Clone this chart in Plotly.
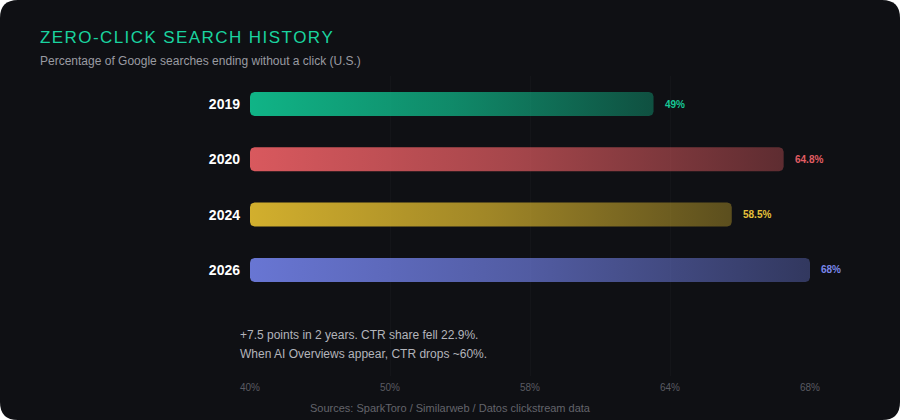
import plotly.graph_objects as go
import numpy as np

# ---------------- data ----------------
years = ["2019", "2020", "2024", "2026"]
values = [49.0, 64.8, 58.5, 68.0]
value_labels = ["49%", "64.8%", "58.5%", "68%"]
bar_colors = ["#10b98a", "#df5b60", "#d8b42e", "#6b79d9"]
label_colors = ["#16c796", "#e25d63", "#e6c13a", "#7a87ea"]
tick_labels = ["40%", "50%", "58%", "64%", "68%"]

title = "ZERO-CLICK SEARCH HISTORY"
subtitle = "Percentage of Google searches ending without a click (U.S.)"
note_lines = ["+7.5 points in 2 years. CTR share fell 22.9%.",
              "When AI Overviews appear, CTR drops ~60%."]
source = "Sources: SparkToro / Similarweb / Datos clickstream data"

# ---------------- layout geometry ----------------
W, H = 900, 420
ML, MR, MT, MB = 250, 90, 76, 44
PW, PH = W - ML - MR, H - MT - MB
xmax = max(values)
band_px = 55.3
y_top = -(104 - MT) / band_px
y_bot = y_top + PH / band_px

px_x = PW / xmax          # px per x unit
px_y = band_px            # px per y unit
half_h = 12 / px_y
r_px = 4.5


def hexrgb(h):
    h = h.lstrip("#")
    return tuple(int(h[i:i + 2], 16) for i in (0, 2, 4))


def rounded_bar(x0, x1, yc):
    rx = r_px / px_x
    ry = r_px / px_y
    y0, y1 = yc - half_h, yc + half_h
    xs, ys = [], []
    t = np.linspace(0, np.pi / 2, 8)
    corners = [(x1 - rx, y0 + ry, -np.pi / 2), (x1 - rx, y1 - ry, 0.0),
               (x0 + rx, y1 - ry, np.pi / 2), (x0 + rx, y0 + ry, np.pi)]
    for cx, cy, a0 in corners:
        a = a0 + t
        xs.extend(cx + rx * np.cos(a))
        ys.extend(cy + ry * np.sin(a))
    xs.append(xs[0]); ys.append(ys[0])
    return xs, ys


fig = go.Figure()

for i, (yr, v, c) in enumerate(zip(years, values, bar_colors)):
    r, g, b = hexrgb(c)
    xs, ys = rounded_bar(0, v, i)
    fig.add_trace(go.Scatter(
        x=xs, y=ys, mode="lines", fill="toself",
        line=dict(width=0, color="rgba(0,0,0,0)"),
        fillgradient=dict(type="horizontal",
                          colorscale=[[0, f"rgba({r},{g},{b},0.97)"],
                                      [0.5, f"rgba({r},{g},{b},0.72)"],
                                      [1, f"rgba({r},{g},{b},0.38)"]]),
        hoverinfo="skip", showlegend=False))

FONT = "Liberation Sans, Arial, Helvetica, sans-serif"

# value labels
for i, (v, lab, lc) in enumerate(zip(values, value_labels, label_colors)):
    fig.add_annotation(x=v, y=i, text=f"<b>{lab}</b>", showarrow=False,
                       xanchor="left", xshift=9,
                       font=dict(size=10, color=lc, family=FONT))

tickvals = list(np.linspace(0, xmax, len(tick_labels)))

# rounded card background
x0p, x1p = -ML / PW, (W - ML) / PW
y0p, y1p = -MB / PH, 1 + MT / PH
rxp, ryp = 18 / PW, 18 / PH
path = (f"M {x0p + rxp},{y0p} L {x1p - rxp},{y0p} Q {x1p},{y0p} {x1p},{y0p + ryp} "
        f"L {x1p},{y1p - ryp} Q {x1p},{y1p} {x1p - rxp},{y1p} "
        f"L {x0p + rxp},{y1p} Q {x0p},{y1p} {x0p},{y1p - ryp} "
        f"L {x0p},{y0p + ryp} Q {x0p},{y0p} {x0p + rxp},{y0p} Z")
fig.add_shape(type="path", path=path, xref="paper", yref="paper",
              fillcolor="#0f1014", line=dict(width=0), layer="below")

spaced_title = "\u200a".join(list(title))
fig.add_annotation(x=38, y=37, xref="paper", yref="paper", text=spaced_title,
                   showarrow=False, xanchor="left", yanchor="middle",
                   font=dict(size=17, color="#1ad39f", family=FONT))
fig.add_annotation(x=38, y=61, xref="paper", yref="paper", text=subtitle,
                   showarrow=False, xanchor="left", yanchor="middle",
                   font=dict(size=12, color="#9a9ba2", family=FONT))
for k, line in enumerate(note_lines):
    fig.add_annotation(x=238, y=335 + 19 * k, xref="paper", yref="paper", text=line,
                       showarrow=False, xanchor="left", yanchor="middle",
                       font=dict(size=12, color="#b3b4bb", family=FONT))
fig.add_annotation(x=450, y=408, xref="paper", yref="paper", text=source,
                   showarrow=False, xanchor="center", yanchor="middle",
                   font=dict(size=11, color="#63646b", family=FONT))

# convert pixel-positioned annotations to paper coords
for ann in fig.layout.annotations:
    if ann.xref == "paper":
        ann.x = (ann.x - ML) / PW
        ann.y = 1 - (ann.y - MT) / PH

fig.update_layout(
    width=W, height=H,
    margin=dict(l=ML, r=MR, t=MT, b=MB, pad=0),
    paper_bgcolor="#ffffff", plot_bgcolor="rgba(0,0,0,0)",
    font=dict(family=FONT),
    xaxis=dict(range=[0, xmax], tickvals=tickvals, ticktext=tick_labels,
               showgrid=True, gridcolor="rgba(255,255,255,0.025)", gridwidth=1,
               zeroline=False, showline=False, ticks="",
               tickfont=dict(size=10, color="#5a5b62", family=FONT),
               ticklabelstandoff=4, fixedrange=True),
    yaxis=dict(range=[y_bot, y_top], tickvals=list(range(len(years))),
               ticktext=years, showgrid=False, zeroline=False, showline=False,
               ticks="", tickfont=dict(size=14, color="#ffffff", family=FONT,
                                       weight="bold"),
               ticklabelstandoff=9, fixedrange=True),
)

fig.write_html("out.html")
